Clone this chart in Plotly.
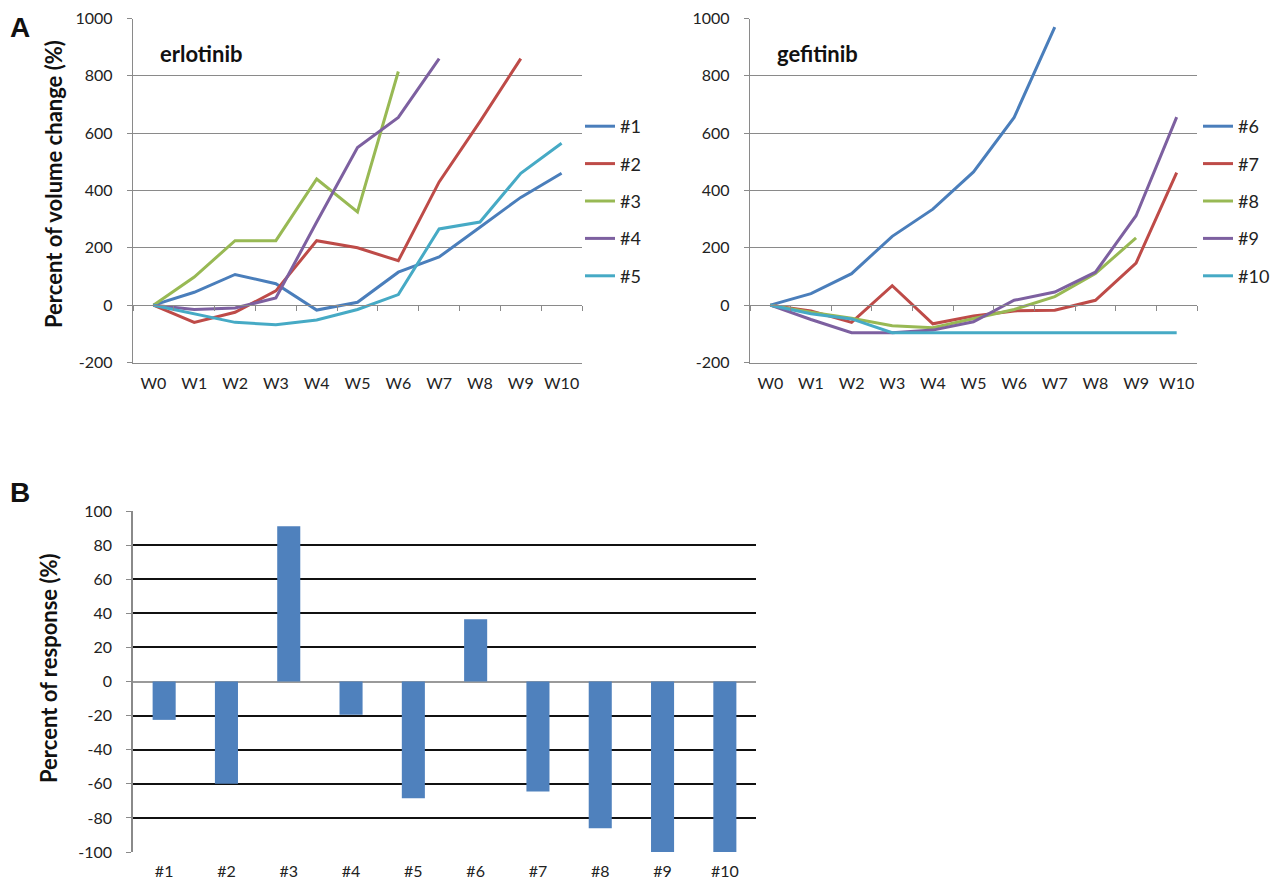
import plotly.graph_objects as go

# ---------------- data ----------------
weeks = ["W0", "W1", "W2", "W3", "W4", "W5", "W6", "W7", "W8", "W9", "W10"]

# erlotinib (percent of volume change)
p1 = [0, 45, 107, 75, -17, 10, 115, 168, 272, 376, 460]
p2 = [0, -60, -25, 50, 225, 200, 155, 430, 640, 860]
p3 = [0, 98, 225, 225, 440, 325, 815]
p4 = [0, -15, -10, 25, 290, 550, 655, 860]
p5 = [0, -30, -60, -68, -52, -15, 37, 266, 290, 460, 565]

# gefitinib (percent of volume change)
p6 = [0, 40, 110, 240, 335, 465, 655, 970]
p7 = [0, -20, -60, 68, -65, -38, -20, -18, 17, 147, 462]
p8 = [0, -25, -46, -72, -79, -46, -15, 30, 110, 235]
p9 = [0, -50, -96, -96, -87, -58, 17, 46, 115, 312, 656]
p10 = [0, -30, -48, -96, -96, -96, -96, -96, -96, -96, -96]

# percent of response
patients = ["#1", "#2", "#3", "#4", "#5", "#6", "#7", "#8", "#9", "#10"]
response = [-22.5, -60, 91, -19.5, -68.5, 36.5, -64.5, -86, -100, -100]

erl_names = ["#1", "#2", "#3", "#4", "#5"]
gef_names = ["#6", "#7", "#8", "#9", "#10"]

# tick labels
line_ticks = [-200, 0, 200, 400, 600, 800, 1000]
bar_ticks = [-100, -80, -60, -40, -20, 0, 20, 40, 60, 80, 100]

line_colors = ["#4A7EBB", "#BE4B48", "#98B954", "#7D60A0", "#46AAC5"]
bar_color = "#4F81BD"

# ---------------- layout helpers ----------------
# page body has an 8px margin: the figure is sized to fit the window
OFF = 8
W, H = 1285 - 2 * OFF, 888 - 2 * OFF
FONT = "Lato, 'Open Sans', Arial, sans-serif"
GRID = "#8a8a8a"


def fx(p):
    return (p - OFF) / W


def fy(p):
    return 1 - (p - OFF) / H


line_yrange = [line_ticks[0], line_ticks[-1]]
bar_yrange = [bar_ticks[0], bar_ticks[-1]]

dom_left_x = [fx(133), fx(582)]
dom_right_x = [fx(750), fx(1197)]
dom_top_y = [fy(362.5), fy(18.5)]
dom_bar_x = [fx(133), fx(756)]
dom_bar_y = [fy(852), fy(511)]


def zero_pos(dom, rng):
    return dom[0] + (dom[1] - dom[0]) * (0 - rng[0]) / (rng[1] - rng[0])


fig = go.Figure()

for name, vals, col in zip(erl_names, [p1, p2, p3, p4, p5], line_colors):
    fig.add_trace(go.Scatter(
        x=weeks[:len(vals)], y=vals, mode="lines", name=name,
        line=dict(color=col, width=3), xaxis="x", yaxis="y",
        legend="legend", legendgroup="e" + name))

for name, vals, col in zip(gef_names, [p6, p7, p8, p9, p10], line_colors):
    fig.add_trace(go.Scatter(
        x=weeks[:len(vals)], y=vals, mode="lines", name=name,
        line=dict(color=col, width=3), xaxis="x2", yaxis="y2",
        legend="legend2", legendgroup="g" + name))

fig.add_trace(go.Bar(
    x=patients, y=response, marker=dict(color=bar_color, line=dict(width=0)),
    xaxis="x3", yaxis="y3", showlegend=False))

# invisible traces to activate zero-line overlay axes (category axis crossing at 0)
boundaries = [i - 0.5 for i in range(len(weeks) + 1)]
fig.add_trace(go.Scatter(x=[None], y=[None], xaxis="x4", yaxis="y", showlegend=False, hoverinfo="skip"))
fig.add_trace(go.Scatter(x=[None], y=[None], xaxis="x5", yaxis="y2", showlegend=False, hoverinfo="skip"))

tickfont = dict(family=FONT, size=16, color="#222")

line_y = dict(range=line_yrange, tickmode="array", tickvals=line_ticks,
              ticktext=[str(v) for v in line_ticks],
              showgrid=True, gridcolor=GRID, gridwidth=1.4,
              zeroline=False, showline=True, linecolor=GRID, linewidth=1.4,
              ticks="outside", ticklen=5, tickcolor=GRID, tickwidth=1.4,
              tickfont=tickfont, ticklabelstandoff=11, fixedrange=True, automargin=False)
line_x = dict(type="category", categoryarray=weeks, range=[-0.5, len(weeks) - 0.5],
              showgrid=False, zeroline=False, showline=True, linecolor=GRID, linewidth=1.4,
              ticks="", tickfont=tickfont, ticklabelstandoff=6, fixedrange=True, automargin=False)
zero_x = dict(range=[-0.5, len(weeks) - 0.5], showgrid=False, zeroline=False, showline=True,
              linecolor=GRID, linewidth=1.4, ticks="outside", ticklen=5, tickcolor=GRID,
              tickwidth=1.4, tickmode="array", tickvals=boundaries, showticklabels=False,
              anchor="free", fixedrange=True, automargin=False)

fig.update_layout(
    width=W, height=H, margin=dict(l=0, r=0, t=0, b=0, autoexpand=False),
    paper_bgcolor="white", plot_bgcolor="white",
    font=dict(family=FONT, color="#222"),
    xaxis=dict(domain=dom_left_x, anchor="y", **line_x),
    yaxis=dict(domain=dom_top_y, anchor="x", **line_y),
    xaxis2=dict(domain=dom_right_x, anchor="y2", **line_x),
    yaxis2=dict(domain=dom_top_y, anchor="x2", **line_y),
    xaxis4=dict(domain=dom_left_x, overlaying="x", position=zero_pos(dom_top_y, line_yrange), **zero_x),
    xaxis5=dict(domain=dom_right_x, overlaying="x2", position=zero_pos(dom_top_y, line_yrange), **zero_x),
    xaxis3=dict(domain=dom_bar_x, anchor="y3", type="category", categoryarray=patients,
                showgrid=False, zeroline=False, showline=False, ticks="",
                tickfont=dict(family=FONT, size=16, color="#222"), ticklabelstandoff=8,
                fixedrange=True, automargin=False),
    yaxis3=dict(domain=dom_bar_y, anchor="x3", range=bar_yrange, tickmode="array",
                tickvals=bar_ticks, ticktext=[str(v) for v in bar_ticks],
                showgrid=True, gridcolor="#111", gridwidth=1.6,
                zeroline=True, zerolinecolor="#9a9a9a", zerolinewidth=1.6,
                showline=True, linecolor=GRID, linewidth=1.6,
                ticks="outside", ticklen=5, tickcolor=GRID, tickwidth=1.4,
                tickfont=tickfont, ticklabelstandoff=11, fixedrange=True, automargin=False),
    bargap=0.63,
    legend=dict(x=fx(580), y=fy(108), xanchor="left", yanchor="top",
                font=dict(family=FONT, size=18, color="#222"), tracegroupgap=11,
                bgcolor="rgba(0,0,0,0)"),
    legend2=dict(x=fx(1198), y=fy(108), xanchor="left", yanchor="top",
                 font=dict(family=FONT, size=18, color="#222"), tracegroupgap=11,
                 bgcolor="rgba(0,0,0,0)"),
    annotations=[
        dict(text="<b>A</b>", x=fx(8), y=fy(28), xref="paper", yref="paper", xanchor="left",
             yanchor="middle", showarrow=False, font=dict(family="Arial, sans-serif", size=28, color="#111")),
        dict(text="<b>B</b>", x=fx(8), y=fy(492), xref="paper", yref="paper", xanchor="left",
             yanchor="middle", showarrow=False, font=dict(family="Arial, sans-serif", size=28, color="#111")),
        dict(text="<b>erlotinib</b>", x=fx(158), y=fy(53), xref="paper", yref="paper", xanchor="left",
             yanchor="middle", showarrow=False, font=dict(family=FONT, size=22, color="#111")),
        dict(text="<b>gefitinib</b>", x=fx(775), y=fy(53), xref="paper", yref="paper", xanchor="left",
             yanchor="middle", showarrow=False, font=dict(family=FONT, size=22, color="#111")),
        dict(text="<b>Percent of volume change (%)</b>", x=fx(53), y=fy(184), xref="paper", yref="paper",
             xanchor="center", yanchor="middle", textangle=-90, showarrow=False,
             font=dict(family=FONT, size=22, color="#111")),
        dict(text="<b>Percent of response (%)</b>", x=fx(48), y=fy(668), xref="paper", yref="paper",
             xanchor="center", yanchor="middle", textangle=-90, showarrow=False,
             font=dict(family=FONT, size=22, color="#111")),
    ],
)

fig.write_html("out.html")
